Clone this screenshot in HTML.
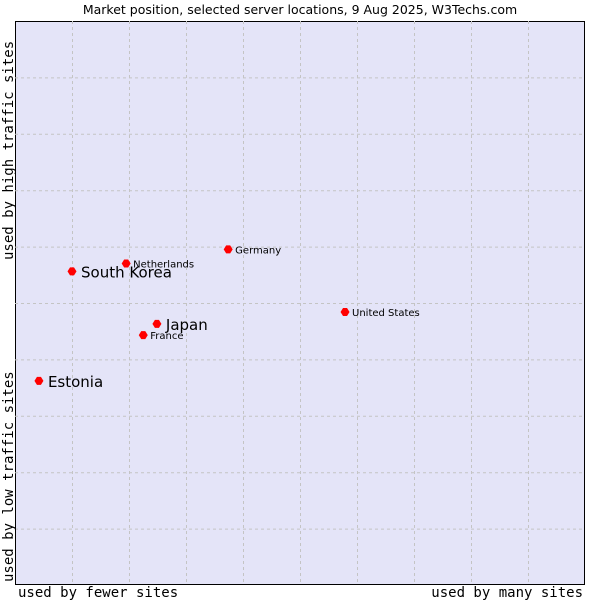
<!DOCTYPE html>
<html><head><meta charset="utf-8"><style>
body{margin:0;background:#fff;width:600px;height:600px;overflow:hidden}
text{font-family:"DejaVu Sans","Liberation Sans",sans-serif}
text.mono{font-family:"DejaVu Sans Mono","Liberation Mono",monospace}
</style></head><body>
<svg id="c" width="600" height="600">
<text x="300" y="14" text-anchor="middle" font-size="12.5" fill="#000">Market position, selected server locations, 9 Aug 2025, W3Techs.com</text>
<rect x="15.5" y="21.5" width="569" height="563" fill="#e4e4f8" stroke="#000"/>
<g id="grid"></g><g id="pts"></g>
<text class="mono" x="18" y="597" font-size="14">used by fewer sites</text>
<text class="mono" x="583" y="597" text-anchor="end" font-size="14">used by many sites</text>
<text class="mono" transform="translate(13,582) rotate(-90)" font-size="14">used by low traffic sites</text>
<text class="mono" transform="translate(13,260) rotate(-90)" font-size="14">used by high traffic sites</text>
</svg>
<script>
const names=["South Korea","Netherlands","Germany","United States","Japan","France","Estonia"];
const xVals=[10.0,19.5,37.4,57.9,24.9,22.5,4.2];
const yVals=[55.6,57.0,59.5,48.4,46.3,44.3,36.2];
const bigLabel=[true,false,false,false,true,false,true];
const L=15,T=21,W=570,H=564;
const sx=v=>L+v/100*W, sy=v=>T+H-v/100*H;
const ns="http://www.w3.org/2000/svg";
const g=document.getElementById('grid');
for(let i=1;i<10;i++){
 let l=document.createElementNS(ns,'line');
 
 
 l.setAttribute('x1',sx(i*10)+.5);l.setAttribute('x2',sx(i*10)+.5);l.setAttribute('y1',T);l.setAttribute('y2',T+H);
 l.setAttribute('stroke','#c4c4c4');l.setAttribute('stroke-dasharray','3,3');g.appendChild(l);
 let h=document.createElementNS(ns,'line');
 
 
 h.setAttribute('y1',sy(i*10)+.5);h.setAttribute('y2',sy(i*10)+.5);h.setAttribute('x1',L);h.setAttribute('x2',L+W);
 h.setAttribute('stroke','#c4c4c4');h.setAttribute('stroke-dasharray','3,3');g.appendChild(h);
}
const p=document.getElementById('pts');
names.forEach((n,i)=>{
 const x=sx(xVals[i]),y=sy(yVals[i]);
 let c=document.createElementNS(ns,'path');
 
 
 c.setAttribute('d',`M${x-4.5},${y} L${x-2},${y-4} L${x+2},${y-4} L${x+4.5},${y} L${x+2},${y+4} L${x-2},${y+4}Z`);
 c.setAttribute('fill','#f00');p.appendChild(c);
 let t=document.createElementNS(ns,'text');
 
 
 t.setAttribute('x',x+(bigLabel[i]?9:7));t.setAttribute('y',y+(bigLabel[i]?6:4));
 t.setAttribute('font-size',bigLabel[i]?15:10);t.textContent=n;p.appendChild(t);
});
</script>
</body></html>
